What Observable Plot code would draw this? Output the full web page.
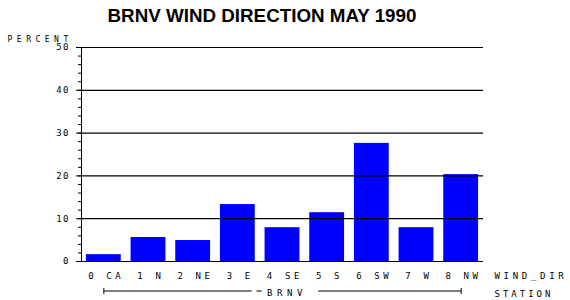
<!DOCTYPE html>
<html>
<head>
<meta charset="utf-8">
<script src="https://cdn.jsdelivr.net/npm/d3@7"></script>
<script src="https://cdn.jsdelivr.net/npm/@observablehq/plot@0.6"></script>
<style>
  html, body { margin: 0; padding: 0; background: white; }
  #chart svg { display: block; }
  g[aria-label="x-axis tick label"] text { letter-spacing: 3.6px; }
  g[aria-label="y-axis tick label"] text { letter-spacing: 1.5px; }
</style>
</head>
<body>
<div id="chart"></div>
<script>
const title = "BRNV WIND DIRECTION MAY 1990";
const categories = ["0 CA", "1 N", "2 NE", "3 E", "4 SE", "5 S", "6 SW", "7 W", "8 NW"];
const percents = [1.6, 5.6, 4.9, 13.3, 7.9, 11.4, 27.6, 7.9, 20.3];
const majorTicks = [0, 10, 20, 30, 40, 50];
const minorTicks = d3.range(0, 51, 2);
const yLabel = "PERCENT";
const xLabel = "WIND_DIR";
const groupLabel = "STATION";
const groupName = "BRNV";

const data = categories.map((c, i) => ({dir: c, pct: percents[i]}));
const mono = "DejaVu Sans Mono";

const chart = Plot.plot({
  width: 570,
  height: 300,
  marginLeft: 81,
  marginRight: 87,
  marginTop: 47,
  marginBottom: 39,
  style: {background: "white", color: "black", fontFamily: mono},
  x: {domain: categories, paddingInner: 0.22, paddingOuter: 0.11, round: false, axis: null},
  y: {domain: [0, 50], axis: null},
  marks: [
    Plot.barY(data, {x: "dir", y: "pct", fill: "#0000ff"}),
    Plot.ruleY(majorTicks, {stroke: "black", strokeWidth: 1.2}),
    Plot.frame({anchor: "left", stroke: "black", strokeWidth: 1}),
    Plot.axisY({ticks: minorTicks, tickSize: 3, text: null, label: null, stroke: "black"}),
    Plot.axisY({ticks: majorTicks, tickSize: 5, tickPadding: 6.5, label: null, fontSize: 9, fontFamily: mono, stroke: "black"}),
    Plot.link([groupName], {
      x1: () => categories[0], x2: () => categories[categories.length - 1],
      y1: () => 0, y2: () => 0, dy: 29.5,
      stroke: "black", strokeWidth: 1, markerStart: "tick", markerEnd: "tick"
    }),
    Plot.text([groupName], {
      frameAnchor: "bottom", lineAnchor: "bottom", dx: 4.5, dy: 34.3,
      text: d => d, fontSize: 9, fontFamily: mono, fill: "white",
      stroke: "white", strokeWidth: 32, strokeLinejoin: "round"
    }),
    Plot.text([groupName], {
      frameAnchor: "bottom", lineAnchor: "bottom", dx: 4.5, dy: 34.3,
      text: d => d, fontSize: 9, fontFamily: mono, fill: "black"
    }),
    Plot.axisX({tickSize: 0, tickPadding: 11, label: null, fontSize: 9, fontFamily: mono, dx: 2.4}),
    Plot.text([title], {
      frameAnchor: "top", lineAnchor: "bottom", dx: -20.5, dy: -25.5,
      text: d => d, fontSize: 18.8, fontWeight: "bold", fontFamily: "Liberation Sans",
      fill: "black"
    }),
    Plot.text([yLabel], {
      frameAnchor: "top-left", textAnchor: "start", lineAnchor: "bottom", dx: -74, dy: -5.8,
      text: d => d, fontSize: 8, fontFamily: mono, fill: "black"
    }),
    Plot.text([xLabel], {
      frameAnchor: "bottom-right", textAnchor: "start", lineAnchor: "bottom", dx: 11, dy: 17.5,
      text: d => d, fontSize: 9, fontFamily: mono, fill: "black"
    }),
    Plot.text([groupLabel], {
      frameAnchor: "bottom-right", textAnchor: "start", lineAnchor: "bottom", dx: 11, dy: 35,
      text: d => d, fontSize: 9, fontFamily: mono, fill: "black"
    })
  ]
});

// letter spacing for the spaced-out label texts
const spacing = new Map([[yLabel, "4.5px"], [xLabel, "3.7px"], [groupLabel, "3.0px"], [groupName, "4.6px"]]);
d3.select(chart).selectAll("text").each(function() {
  const s = spacing.get(this.textContent);
  if (s) this.style.letterSpacing = s;
});
document.getElementById("chart").append(chart);
</script>
</body>
</html>
